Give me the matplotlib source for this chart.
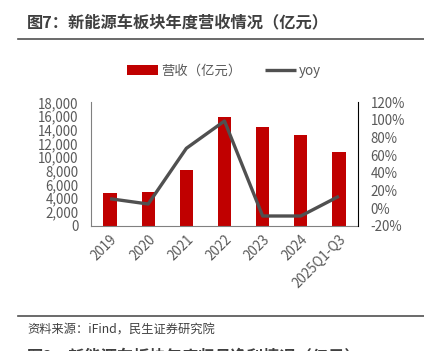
import numpy as np
import matplotlib
matplotlib.use('Agg')
import matplotlib.pyplot as plt
from matplotlib.ticker import FuncFormatter, MultipleLocator

plt.rcParams['font.family'] = ['Noto Sans CJK SC', 'DejaVu Sans']

# data
categories = ['2019', '2020', '2021', '2022', '2023', '2024', '2025Q1-Q3']
revenue = [4720, 4910, 8080, 15890, 14430, 13180, 10790]
yoy = [10.6, 4.6, 67.8, 98.8, -9.0, -9.0, 13.4]

title = '图7：新能源车板块年度营收情况（亿元）'
source = '资料来源：iFind，民生证券研究院'
next_title = '图8：新能源车板块年度归母净利情况（亿元）'

bar_color = '#C00000'
line_color = '#505050'
text_color = '#595959'

fig = plt.figure(figsize=(4.24, 3.51), dpi=100)

# header and footer
fig.text(27 / 424, 1 - 22 / 351, title, fontsize=11.7, fontweight='bold',
         color='#404040', va='center', ha='left')
fig.add_artist(plt.Line2D([18 / 424, 1], [1 - 38.5 / 351] * 2, color='#505050', lw=1.2))
fig.add_artist(plt.Line2D([18 / 424, 1], [1 - 316 / 351] * 2, color='#505050', lw=1.2))
fig.text(27 / 424, 1 - 330 / 351, source, fontsize=8.8, color='#404040',
         va='center', ha='left')
fig.text(27 / 424, 1 - 356 / 351, next_title, fontsize=11.7, fontweight='bold',
         color='#404040', va='center', ha='left')

ax = fig.add_axes([91 / 424, 1 - 225.7 / 351, 267 / 424, 123.4 / 351])
x = np.arange(len(categories))
bars = ax.bar(x, revenue, width=0.35, color=bar_color, label='营收（亿元）', zorder=2)
ax.set_ylim(0, 18000)
ax.set_xlim(-0.5, len(categories) - 0.5)
ax.yaxis.set_major_locator(MultipleLocator(2000))
ax.yaxis.set_major_formatter(FuncFormatter(lambda v, p: f'{int(v):,}'))
ax.set_xticks(x)
ax.set_xticklabels(categories, rotation=45, ha='right', rotation_mode='anchor')

ax2 = ax.twinx()
line, = ax2.plot(x, yoy, color=line_color, lw=2.4, label='yoy', zorder=3,
                 solid_capstyle='butt')
ax2.set_ylim(-20, 120)
ax2.yaxis.set_major_locator(MultipleLocator(20))
ax2.yaxis.set_major_formatter(FuncFormatter(lambda v, p: f'{int(round(v))}%'))

for a in (ax, ax2):
    a.spines['top'].set_visible(False)
    a.tick_params(length=0, labelsize=9.6, labelcolor=text_color, pad=9)
ax.spines['left'].set_color('#808080')
ax.spines['bottom'].set_color('#808080')
ax.spines['right'].set_visible(False)
ax2.spines['left'].set_visible(False)
ax2.spines['bottom'].set_visible(False)
ax2.spines['right'].set_color('black')
ax.tick_params(axis='x', pad=5)

fig.legend([bars, line], ['营收（亿元）', 'yoy'], loc='center',
           bbox_to_anchor=(224 / 424, 1 - 70.5 / 351), ncol=2, frameon=False,
           fontsize=9.6, labelcolor=text_color, handlelength=2.3,
           handletextpad=0.2, columnspacing=1.8)

fig.savefig('out.png', dpi=100)
